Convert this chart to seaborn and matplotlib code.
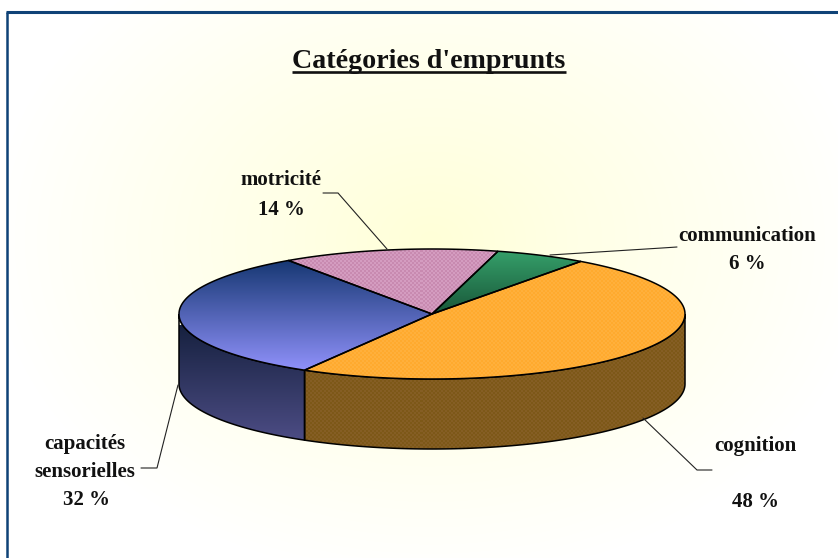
import numpy as np
import seaborn as sns
import matplotlib.pyplot as plt
from matplotlib.patches import Polygon

labels = ['cognition', 'capacités\nsensorielles', 'motricité', 'communication']
values = [48.4, 32.0, 13.8, 5.8]
pct_labels = ['48 %', '32 %', '14 %', '6 %']
title = "Catégories d'emprunts"

sns.set_theme(style='white')
plt.rcParams['font.family'] = ['Liberation Serif', 'DejaVu Serif']

W, H = 838, 558
cx, cy, rx, ry, depth = 432, 314, 253, 65, 70
start_angle = 54

fig = plt.figure(figsize=(W / 100, H / 100), dpi=100)
ax = fig.add_axes([0, 0, 1, 1])
ax.set_axis_off()


def ellipse(t, dy=0):
    t = np.radians(t)
    return np.column_stack([cx + rx * np.cos(t), cy - ry * np.sin(t) + dy])


def gradient_fill(poly, top, bottom, y0, y1, z):
    # vertical gradient clipped to the polygon
    cmap = sns.blend_palette([top, bottom], n_colors=128, as_cmap=True)
    grad = np.linspace(0, 1, 256).reshape(-1, 1)
    im = ax.imshow(grad, cmap=cmap, extent=[0, W, y1, y0], aspect='auto', zorder=z)
    im.set_clip_path(Polygon(poly, closed=True, transform=ax.transData))


def dither_fill(poly, c1, c2, z):
    # small checker, same look as the old office pattern fill
    yy, xx = np.indices((H, W))
    cmap = sns.blend_palette([c1, c2], n_colors=2, as_cmap=True)
    im = ax.imshow((xx // 2 + yy // 2) % 2, cmap=cmap, extent=[0, W, H, 0], aspect='auto',
                   interpolation='nearest', zorder=z)
    im.set_clip_path(Polygon(poly, closed=True, transform=ax.transData))


# background
yy, xx = np.mgrid[0:H, 0:W]
r = np.sqrt(((xx - 430) / 440) ** 2 + ((yy - 240) / 340) ** 2)
bg = sns.blend_palette(['#FFFFD8', '#FFFFE6', '#FFFFF2', '#FFFFFF'], n_colors=256, as_cmap=True)
ax.imshow(np.clip(r, 0, 1), cmap=bg, extent=[0, W, H, 0], aspect='auto', zorder=0)

# slice angles, clockwise from the start angle
ends = start_angle - np.cumsum(values) * 3.6
starts = np.concatenate([[start_angle], ends[:-1]])

# walls
for i, (a, b) in enumerate(zip(starts, ends)):
    a2, b2 = min(a, 0), max(b, -180)
    if a2 <= b2:
        continue
    t = np.linspace(a2, b2, 120)
    poly = np.vstack([ellipse(t), ellipse(t[::-1], depth)])
    if i == 0:
        dither_fill(poly, '#7D5818', '#855E24', 2)
    else:
        gradient_fill(poly, '#16213F', '#4C4C84', 325, 440, 2)
    ax.add_patch(Polygon(poly, closed=True, fill=False, ec='black', lw=1.1, zorder=3))

# tops
top_styles = [('dither', '#FFAA2E', '#FFB03C'),
              ('grad', '#143670', '#9494FF', 258, 368),
              ('dither', '#D49CC0', '#C88AB0'),
              ('grad', '#35A06A', '#164F34', 250, 315)]
for a, b, st in zip(starts, ends, top_styles):
    t = np.linspace(a, b, 200)
    poly = np.vstack([[[cx, cy]], ellipse(t)])
    if st[0] == 'dither':
        dither_fill(poly, st[1], st[2], 4)
    else:
        gradient_fill(poly, st[1], st[2], st[3], st[4] + 6, 4)
    ax.add_patch(Polygon(poly, closed=True, fill=False, ec='black', lw=1.1, zorder=5))

# leader lines
leaders = [([643, 697, 712], [418, 470, 470]),
           ([178, 157, 141], [385, 468, 468]),
           ([387, 338, 323], [249, 193, 193]),
           ([550, 662, 677], [255, 248, 247])]
for lx, ly in leaders:
    ax.plot(lx, ly, color='#222222', lw=0.8, zorder=6, solid_joinstyle='miter')

# labels
fs = 15
txt = dict(ha='center', va='center', fontsize=fs, fontweight='bold', color='#111111', zorder=7)
ax.text(755, 446, labels[0], **txt)
ax.text(755, 502, pct_labels[0], **txt)
ax.text(85, 458, labels[1], linespacing=1.55, **txt)
ax.text(86, 500, pct_labels[1], **txt)
ax.text(281, 180, labels[2], **txt)
ax.text(281, 210, pct_labels[2], **txt)
ax.text(747, 236, labels[3], **txt)
ax.text(747, 264, pct_labels[3], **txt)

# title, underline drawn by hand
ax.text(429, 68, title, ha='center', va='baseline', fontsize=20.2, fontweight='bold',
        color='#111111', zorder=7)
ax.plot([292, 566], [72, 72], color='#111111', lw=1.9, zorder=7, solid_capstyle='butt')

# frame, only top and left are in the picture
ax.plot([7, 7], [H, 11.5], color='#0F4277', lw=1.8, zorder=8, solid_capstyle='butt')
ax.plot([6, W], [11.5, 11.5], color='#0F4277', lw=2.2, zorder=8, solid_capstyle='butt')

ax.set_xlim(0, W)
ax.set_ylim(H, 0)
fig.savefig('out.png', dpi=100)
